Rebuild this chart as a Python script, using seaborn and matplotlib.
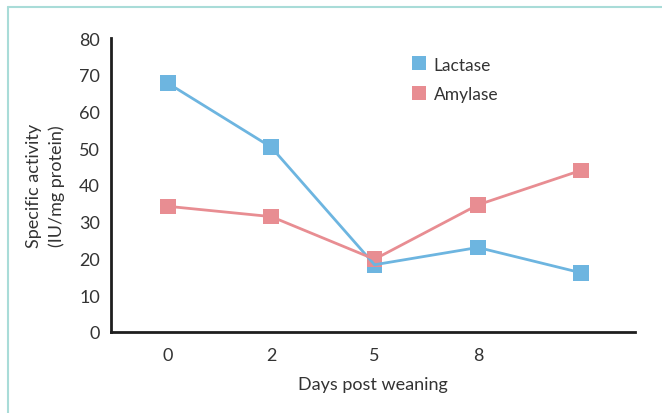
import matplotlib
matplotlib.use("Agg")
import matplotlib.pyplot as plt
import seaborn as sns
import pandas as pd
from matplotlib.lines import Line2D

days = ["0", "2", "5", "8", ""]
lactase = [67.7, 50.3, 18.3, 23.0, 16.1]
amylase = [34.2, 31.4, 19.8, 34.6, 44.0]
series_names = ["Lactase", "Amylase"]
colors = {"Lactase": "#6db5e0", "Amylase": "#e88d92"}

sns.set_theme(style="white")
plt.rcParams["font.family"] = ["Lato", "DejaVu Sans"]

rows = []
for i, d in enumerate(days):
    rows.append({"pos": i, "enzyme": "Lactase", "value": lactase[i]})
    rows.append({"pos": i, "enzyme": "Amylase", "value": amylase[i]})
df = pd.DataFrame(rows)

fig = plt.figure(figsize=(6.62, 4.14), dpi=100)
ax = fig.add_axes([111/662, 1 - 333/414, (635 - 111)/662, (333 - 39)/414])

sns.scatterplot(data=df, x="pos", y="value", hue="enzyme", hue_order=series_names,
                palette=colors, marker="s", s=125, linewidth=0, legend=False,
                ax=ax, zorder=2)
sns.lineplot(data=df, x="pos", y="value", hue="enzyme", hue_order=series_names,
             palette=colors, linewidth=2, legend=False, ax=ax, zorder=3)

ax.set_xlim(-0.55, 4.52)
ax.set_ylim(0, 80)
ax.set_xticks(range(len(days)))
ax.set_xticklabels(days)
ax.set_yticks(range(0, 81, 10))
ax.tick_params(axis="both", length=0, labelsize=13, colors="#333333", pad=8)
ax.tick_params(axis="x", pad=11)
for s in ["top", "right"]:
    ax.spines[s].set_visible(False)
for s in ["left", "bottom"]:
    ax.spines[s].set_color("#1e1e1e")
    ax.spines[s].set_linewidth(2)

ax.set_xlabel("Days post weaning", fontsize=13, color="#333333", labelpad=9)
ax.set_ylabel("Specific activity\n(IU/mg protein)", fontsize=13, color="#333333",
              labelpad=10, linespacing=1.45)

handles = [Line2D([], [], marker="s", linestyle="none", markersize=10,
                  markeredgewidth=0, color=colors[n]) for n in series_names]
ax.legend(handles, series_names, loc="upper left", bbox_to_anchor=(0.541, 0.99),
          frameon=False, fontsize=12.5, handlelength=1.0, handletextpad=0.36,
          labelspacing=0.75, labelcolor="#333333")

frame_color = "#a9dcd8"
fig.add_artist(Line2D([8/662, 1], [1 - 8/414, 1 - 8/414], color=frame_color, lw=1.5,
                      transform=fig.transFigure))
fig.add_artist(Line2D([8/662, 8/662], [0, 1 - 8/414], color=frame_color, lw=1.5,
                      transform=fig.transFigure))

fig.savefig("out.png", dpi=100, facecolor="white")
